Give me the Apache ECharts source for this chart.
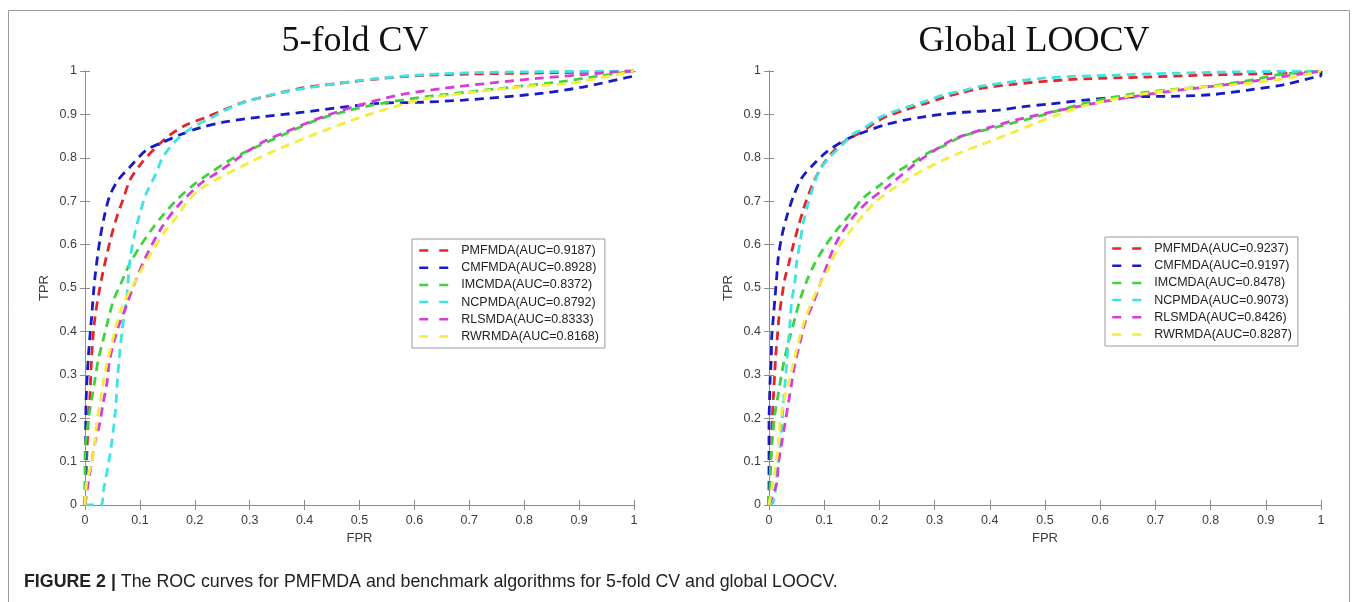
<!DOCTYPE html>
<html>
<head>
<meta charset="UTF-8">
<title>ROC curves</title>
<script src="https://cdn.jsdelivr.net/npm/echarts@6/dist/echarts.min.js"></script>
<style>
  body { margin: 0; background: #fff; }
  #main { width: 1355px; height: 602px; }
</style>
</head>
<body>
<div id="main"></div>
<script type="text/javascript">
// tick labels for both axes
var ticks = ['0', '0.1', '0.2', '0.3', '0.4', '0.5', '0.6', '0.7', '0.8', '0.9', '1'];

var methods = ['PMFMDA', 'CMFMDA', 'IMCMDA', 'NCPMDA', 'RLSMDA', 'RWRMDA'];
var colors = ['#e3262b', '#1a1ac4', '#3ed23e', '#3ee4e4', '#d83cd8', '#f2ee3a'];

// 5-fold CV  (pairs are [FPR, TPR])
var cvAuc = ['0.9187', '0.8928', '0.8372', '0.8792', '0.8333', '0.8168'];
var cvPMFMDA = [[0,0],[0.003,0.1],[0.006,0.2],[0.009,0.25],[0.012,0.34],[0.018,0.43],[0.03,0.52],[0.047,0.615],[0.058,0.664],[0.069,0.703],[0.082,0.749],[0.103,0.788],[0.13,0.825],[0.155,0.853],[0.185,0.876],[0.222,0.894],[0.252,0.91],[0.288,0.928],[0.325,0.94],[0.392,0.96],[0.464,0.972],[0.543,0.983],[0.616,0.99],[0.7,0.993],[0.8,0.995],[0.9,0.997],[1,1]];
var cvCMFMDA = [[0,0],[0.001,0.1],[0.002,0.24],[0.006,0.34],[0.012,0.433],[0.018,0.523],[0.027,0.61],[0.035,0.664],[0.045,0.712],[0.06,0.748],[0.082,0.779],[0.112,0.818],[0.142,0.836],[0.173,0.853],[0.209,0.869],[0.252,0.882],[0.319,0.894],[0.397,0.905],[0.47,0.917],[0.543,0.926],[0.616,0.928],[0.689,0.933],[0.761,0.94],[0.834,0.949],[0.907,0.963],[0.987,0.985],[1,0.99],[1,1]];
var cvIMCMDA = [[0,0],[0,0.11],[0.006,0.196],[0.012,0.242],[0.018,0.288],[0.024,0.334],[0.033,0.38],[0.042,0.426],[0.052,0.472],[0.067,0.515],[0.082,0.557],[0.1,0.595],[0.121,0.634],[0.142,0.668],[0.167,0.703],[0.197,0.737],[0.228,0.765],[0.258,0.79],[0.288,0.811],[0.319,0.829],[0.349,0.846],[0.422,0.887],[0.483,0.91],[0.543,0.926],[0.622,0.941],[0.701,0.952],[0.786,0.964],[0.865,0.975],[0.944,0.99],[1,1]];
var cvNCPMDA = [[0,0],[0.03,0],[0.033,0.028],[0.046,0.12],[0.055,0.212],[0.06,0.304],[0.067,0.396],[0.076,0.48],[0.082,0.565],[0.091,0.627],[0.1,0.672],[0.112,0.719],[0.128,0.76],[0.142,0.802],[0.167,0.841],[0.197,0.871],[0.233,0.894],[0.264,0.915],[0.3,0.932],[0.35,0.948],[0.4,0.96],[0.5,0.978],[0.6,0.99],[0.7,0.996],[0.8,0.998],[1,1]];
var cvRLSMDA = [[0,0],[0.006,0.051],[0.012,0.097],[0.018,0.143],[0.027,0.189],[0.033,0.235],[0.04,0.281],[0.044,0.327],[0.052,0.373],[0.062,0.415],[0.076,0.461],[0.09,0.51],[0.11,0.57],[0.14,0.64],[0.17,0.69],[0.21,0.74],[0.24,0.765],[0.27,0.791],[0.3,0.818],[0.331,0.841],[0.361,0.857],[0.428,0.892],[0.501,0.922],[0.574,0.945],[0.652,0.96],[0.738,0.972],[0.823,0.983],[0.902,0.991],[0.969,0.998],[1,1]];
var cvRWRMDA = [[0,0],[0.003,0.051],[0.012,0.097],[0.018,0.143],[0.021,0.189],[0.027,0.235],[0.033,0.281],[0.04,0.327],[0.049,0.373],[0.058,0.419],[0.07,0.465],[0.088,0.507],[0.106,0.549],[0.124,0.588],[0.143,0.626],[0.167,0.664],[0.185,0.696],[0.208,0.726],[0.248,0.756],[0.301,0.79],[0.343,0.815],[0.41,0.85],[0.483,0.885],[0.556,0.915],[0.628,0.938],[0.713,0.952],[0.798,0.964],[0.883,0.972],[0.962,0.99],[1,1]];

// Global LOOCV
var looAuc = ['0.9237', '0.9197', '0.8478', '0.9073', '0.8426', '0.8287'];
var looPMFMDA = [[0,0],[0.001,0.05],[0.003,0.1],[0.005,0.15],[0.006,0.2],[0.008,0.25],[0.01,0.296],[0.012,0.342],[0.015,0.385],[0.018,0.431],[0.023,0.477],[0.029,0.523],[0.036,0.557],[0.044,0.599],[0.053,0.641],[0.062,0.68],[0.068,0.703],[0.08,0.741],[0.095,0.779],[0.114,0.811],[0.14,0.84],[0.168,0.86],[0.204,0.89],[0.246,0.91],[0.283,0.925],[0.319,0.94],[0.349,0.95],[0.384,0.96],[0.447,0.97],[0.509,0.977],[0.572,0.982],[0.681,0.986],[0.775,0.99],[0.868,0.993],[0.962,0.996],[1,1]];
var looCMFMDA = [[0,0],[0,0.19],[0.001,0.24],[0.002,0.288],[0.004,0.334],[0.005,0.388],[0.008,0.434],[0.011,0.48],[0.014,0.526],[0.017,0.572],[0.023,0.618],[0.032,0.664],[0.044,0.71],[0.059,0.753],[0.083,0.788],[0.105,0.814],[0.138,0.841],[0.174,0.86],[0.21,0.876],[0.246,0.887],[0.283,0.895],[0.319,0.901],[0.353,0.905],[0.416,0.91],[0.462,0.918],[0.509,0.924],[0.572,0.933],[0.618,0.938],[0.681,0.941],[0.743,0.942],[0.806,0.946],[0.868,0.956],[0.931,0.968],[0.986,0.985],[1,0.99],[1,1]];
var looIMCMDA = [[0,0],[0.002,0.05],[0.003,0.1],[0.006,0.15],[0.01,0.203],[0.016,0.25],[0.022,0.296],[0.029,0.342],[0.038,0.388],[0.047,0.43],[0.056,0.472],[0.068,0.515],[0.083,0.557],[0.101,0.595],[0.123,0.634],[0.147,0.67],[0.171,0.708],[0.201,0.737],[0.228,0.765],[0.259,0.788],[0.288,0.811],[0.319,0.829],[0.349,0.849],[0.41,0.87],[0.478,0.892],[0.541,0.915],[0.587,0.93],[0.658,0.947],[0.728,0.957],[0.798,0.965],[0.868,0.978],[0.931,0.993],[1,1]];
var looNCPMDA = [[0,0],[0.007,0.005],[0.011,0.027],[0.014,0.065],[0.02,0.134],[0.023,0.18],[0.026,0.234],[0.029,0.28],[0.032,0.326],[0.035,0.373],[0.038,0.419],[0.041,0.468],[0.047,0.515],[0.05,0.557],[0.056,0.603],[0.062,0.649],[0.071,0.695],[0.08,0.733],[0.092,0.772],[0.11,0.802],[0.13,0.826],[0.15,0.853],[0.168,0.865],[0.204,0.895],[0.246,0.915],[0.283,0.93],[0.319,0.946],[0.349,0.954],[0.384,0.965],[0.502,0.984],[0.618,0.99],[0.736,0.995],[0.85,0.998],[1,1]];
var looRLSMDA = [[0,0],[0.014,0.05],[0.017,0.096],[0.023,0.142],[0.029,0.188],[0.035,0.234],[0.041,0.28],[0.047,0.326],[0.056,0.373],[0.065,0.419],[0.08,0.465],[0.092,0.507],[0.12,0.6],[0.15,0.66],[0.18,0.7],[0.216,0.735],[0.27,0.791],[0.301,0.818],[0.331,0.841],[0.349,0.85],[0.4,0.87],[0.45,0.888],[0.51,0.905],[0.6,0.928],[0.681,0.945],[0.743,0.956],[0.806,0.965],[0.868,0.975],[0.931,0.987],[0.99,0.998],[1,1]];
var looRWRMDA = [[0,0],[0.006,0.045],[0.012,0.09],[0.017,0.134],[0.02,0.188],[0.026,0.234],[0.035,0.28],[0.044,0.326],[0.053,0.373],[0.062,0.415],[0.074,0.457],[0.09,0.503],[0.108,0.545],[0.123,0.588],[0.144,0.626],[0.168,0.664],[0.192,0.698],[0.222,0.726],[0.252,0.752],[0.283,0.774],[0.313,0.793],[0.343,0.81],[0.384,0.83],[0.431,0.853],[0.478,0.877],[0.525,0.9],[0.572,0.92],[0.634,0.938],[0.697,0.951],[0.775,0.962],[0.837,0.968],[0.899,0.976],[0.955,0.987],[1,1]];

var cvCurves = [cvPMFMDA, cvCMFMDA, cvIMCMDA, cvNCPMDA, cvRLSMDA, cvRWRMDA];
var looCurves = [looPMFMDA, looCMFMDA, looIMCMDA, looNCPMDA, looRLSMDA, looRWRMDA];

var axisGray = '#8c8c8c';
var labelFont = { color: '#3c3c3c', fontSize: 12.5, fontFamily: 'Liberation Sans' };

function fmt(v) { return ticks[Math.round(v * 10)]; }

function xAxes(g) {
  return [
    { type: 'value', gridIndex: g, min: 0, max: 1, interval: 0.1, position: 'bottom',
      name: 'FPR', nameLocation: 'middle', nameGap: 27,
      nameTextStyle: { color: '#3c3c3c', fontSize: 13, fontFamily: 'Liberation Sans' },
      axisLine: { lineStyle: { color: axisGray } },
      axisTick: { inside: true, length: 5, lineStyle: { color: axisGray } },
      axisLabel: Object.assign({ margin: 9, formatter: fmt }, labelFont),
      splitLine: { show: false } },
    { type: 'value', gridIndex: g, min: 0, max: 1, interval: 0.1, position: 'top',
      axisLine: { lineStyle: { color: axisGray } },
      axisTick: { inside: true, length: 5, lineStyle: { color: axisGray } },
      axisLabel: { show: false }, splitLine: { show: false } }
  ];
}

function yAxes(g) {
  return [
    { type: 'value', gridIndex: g, min: 0, max: 1, interval: 0.1, position: 'left',
      name: 'TPR', nameLocation: 'middle', nameGap: 34,
      nameTextStyle: { color: '#3c3c3c', fontSize: 13, fontFamily: 'Liberation Sans' },
      axisLine: { lineStyle: { color: axisGray } },
      axisTick: { inside: true, length: 5, lineStyle: { color: axisGray } },
      axisLabel: Object.assign({ margin: 8, formatter: fmt }, labelFont),
      splitLine: { show: false } },
    { type: 'value', gridIndex: g, min: 0, max: 1, interval: 0.1, position: 'right',
      axisLine: { lineStyle: { color: axisGray } },
      axisTick: { inside: true, length: 5, lineStyle: { color: axisGray } },
      axisLabel: { show: false }, splitLine: { show: false } }
  ];
}

function makeSeries(curves, auc, axisIdx) {
  return curves.map(function (d, i) {
    return {
      name: methods[i] + '(AUC=' + auc[i] + ')',
      type: 'line',
      xAxisIndex: axisIdx, yAxisIndex: axisIdx,
      data: d,
      showSymbol: false, symbol: 'none',
      smooth: 0.3,
      itemStyle: { color: colors[i] },
      lineStyle: { color: colors[i], width: 2.8, type: [9, 6] }
    };
  });
}

function makeLegend(auc, left, top) {
  return {
    orient: 'vertical', left: left, top: top,
    data: methods.map(function (m, i) { return m + '(AUC=' + auc[i] + ')'; }),
    backgroundColor: '#fff', borderColor: '#9a9a9a', borderWidth: 1,
    padding: [5, 6, 5, 6], itemWidth: 30, itemHeight: 12, itemGap: 4.2,
    itemStyle: { opacity: 0 },
    lineStyle: { width: 2.5, type: [9, 11] },
    textStyle: { color: '#222', fontSize: 12.5, fontFamily: 'Liberation Sans', padding: [0, 0, 0, 7] }
  };
}

var myChart = echarts.init(document.getElementById('main'));

var option = {
  animation: false,
  backgroundColor: '#fff',
  title: [
    { text: '5-fold CV', left: 350, top: 19, textAlign: 'center',
      textStyle: { fontFamily: 'Liberation Serif', fontSize: 36, fontWeight: 'normal', color: '#111' } },
    { text: 'Global LOOCV', left: 1029, top: 19, textAlign: 'center',
      textStyle: { fontFamily: 'Liberation Serif', fontSize: 36, fontWeight: 'normal', color: '#111' } }
  ],
  legend: [makeLegend(cvAuc, 412, 239), makeLegend(looAuc, 1105, 237)],
  grid: [
    { left: 85, top: 71, width: 549, height: 434 },
    { left: 769, top: 71, width: 552, height: 434 }
  ],
  xAxis: xAxes(0).concat(xAxes(1)),
  yAxis: yAxes(0).concat(yAxes(1)),
  series: makeSeries(cvCurves, cvAuc, 0).concat(makeSeries(looCurves, looAuc, 2)),
  graphic: [
    { type: 'rect', silent: true, z: -1,
      shape: { x: 8.5, y: 10.5, width: 1341, height: 620 },
      style: { fill: 'none', stroke: '#9a9a9a', lineWidth: 1 } },
    { type: 'text', left: 24, top: 573,
      style: {
        text: '{b|FIGURE 2 |} The ROC curves for PMFMDA and benchmark algorithms for 5-fold CV and global LOOCV.',
        fontFamily: 'Liberation Sans', fontSize: 17.8, fill: '#222',
        rich: { b: { fontWeight: 'bold', fontFamily: 'Liberation Sans', fontSize: 17.8, fill: '#222' } }
      } }
  ]
};

myChart.setOption(option);
</script>
</body>
</html>
